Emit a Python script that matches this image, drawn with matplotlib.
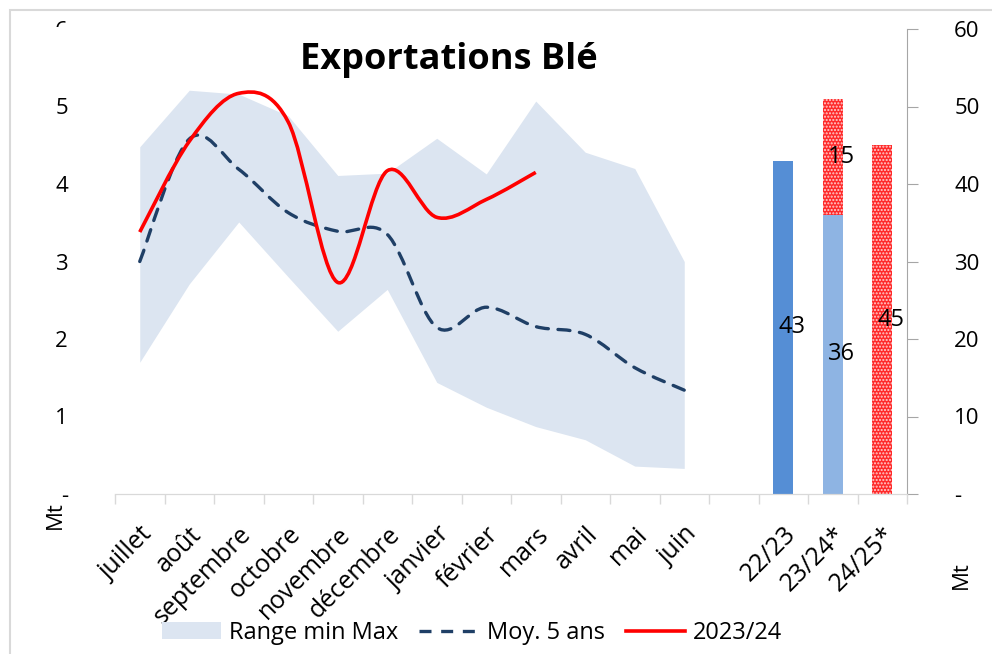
import matplotlib
matplotlib.use("Agg")
import matplotlib.pyplot as plt
from matplotlib.path import Path
from matplotlib.patches import PathPatch, Patch, Rectangle
from matplotlib.lines import Line2D
from matplotlib.transforms import Bbox, TransformedBbox
import numpy as np

plt.rcParams['font.family'] = ['Open Sans', 'DejaVu Sans']

# --- données ---
categories = ["juillet", "août", "septembre", "octobre", "novembre", "décembre",
              "janvier", "février", "mars", "avril", "mai", "juin", "",
              "22/23", "23/24*", "24/25*"]
mois = categories[:12]

range_max = [4.48, 5.21, 5.16, 4.88, 4.11, 4.14, 4.59, 4.13, 5.07, 4.41, 4.20, 3.00]
range_min = [1.70, 2.71, 3.51, 2.80, 2.10, 2.64, 1.44, 1.12, 0.87, 0.70, 0.36, 0.33]
moy_5ans = [3.00, 4.58, 4.19, 3.63, 3.39, 3.35, 2.15, 2.41, 2.16, 2.06, 1.63, 1.34]
campagne_2324 = [3.38, 4.55, 5.17, 4.80, 2.73, 4.17, 3.57, 3.80, 4.15]

campagnes = ["22/23", "23/24*", "24/25*"]
bar_bas = [43, 36, 0]        # réalisé
bar_haut = [0, 15, 45]       # prévision
bar_bas_couleurs = ['#558ED5', '#8EB4E3', '#8EB4E3']

left_ticks = [0, 1, 2, 3, 4, 5, 6]
left_labels = ['-', '1', '2', '3', '4', '5', '6']
right_ticks = [0, 10, 20, 30, 40, 50, 60]
right_labels = ['-', '10', '20', '30', '40', '50', '60']


def courbe_lissee(ax, y, **kw):
    # lissage type Excel : courbes de Bézier passant par les points
    x = np.arange(len(y), dtype=float)
    pts = np.column_stack([x, np.asarray(y, dtype=float)])
    verts = [pts[0]]
    codes = [Path.MOVETO]
    n = len(pts)
    for i in range(n - 1):
        p0 = pts[i - 1] if i > 0 else pts[i]
        p1 = pts[i]
        p2 = pts[i + 1]
        p3 = pts[i + 2] if i + 2 < n else pts[i + 1]
        verts += [p1 + (p2 - p0) / 6, p2 - (p3 - p1) / 6, p2]
        codes += [Path.CURVE4] * 3
    patch = PathPatch(Path(verts, codes), facecolor='none', **kw)
    ax.add_patch(patch)
    return patch


fig = plt.figure(figsize=(9.92, 6.54), dpi=100)
ax = fig.add_axes([115 / 992, 1 - 494 / 654, 792 / 992, 465 / 654])
ax2 = ax.twinx()

# cadre gris clair
fig.patches.append(Rectangle((10 / 992, -0.1), 1.2, 1 - 10 / 654 + 0.1,
                             transform=fig.transFigure, fill=False,
                             edgecolor='#D9D9D9', lw=1.5))

x_mois = np.arange(len(mois))
ax.fill_between(x_mois, range_min, range_max, color='#DCE5F1', lw=0, zorder=1)
courbe_lissee(ax, moy_5ans, edgecolor='#1F3F66', lw=2.4,
              linestyle=(0, (3.6, 2.9)), capstyle='round', zorder=3)
courbe_lissee(ax, campagne_2324, edgecolor='#FF0000', lw=2.6, zorder=4)

# barres sur l'axe de droite
x_bar = np.array([categories.index(c) for c in campagnes], dtype=float)
w = 0.4
ax2.bar(x_bar, bar_bas, width=w, color=bar_bas_couleurs, lw=0, zorder=2)
ax2.bar(x_bar, bar_haut, width=w, bottom=bar_bas, color='#FF2A2A',
        edgecolor='#FFD0D0', hatch='.....', lw=0, zorder=2)
for xb, b, h in zip(x_bar, bar_bas, bar_haut):
    if b > 0:
        ax2.text(xb + 0.17, b / 2, str(b), ha='center', va='center', fontsize=17, zorder=5)
    if h > 0:
        ax2.text(xb + 0.17, b + h / 2, str(h), ha='center', va='center', fontsize=17, zorder=5)

# axes
ax.set_xlim(-0.5, len(categories) - 0.5)
ax.set_ylim(0, 6)
ax2.set_ylim(0, 60)
ax.set_xticks(np.arange(len(categories)))
ax.set_xticklabels(categories, rotation=45, ha='right', rotation_mode='anchor', fontsize=18)
ax.set_xticks(np.arange(len(categories) + 1) - 0.5, minor=True)
ax.tick_params(axis='x', which='major', length=0, pad=20)
ax.tick_params(axis='x', which='minor', length=7, color='#D9D9D9', width=1)
ax.set_yticks(left_ticks)
ax.set_yticklabels(left_labels, fontsize=16)
ax.tick_params(axis='y', length=0, pad=34)
ax2.set_yticks(right_ticks)
ax2.set_yticklabels(right_labels, fontsize=16, ha='left')
ax2.tick_params(axis='y', length=8, color='#A6A6A6', pad=26)

for a in (ax, ax2):
    a.spines['top'].set_visible(False)
    a.spines['left'].set_visible(False)
    a.spines['right'].set_visible(False)
    a.spines['bottom'].set_color('#D9D9D9')
ax2.spines['right'].set_visible(True)
ax2.spines['right'].set_color('#A6A6A6')
ax.set_zorder(ax2.get_zorder() + 1)
ax.patch.set_visible(False)

# le "6" du haut est coupé dans l'original
clip = TransformedBbox(Bbox([[0, 1 - 27 / 654], [1, 1]]), fig.transFigure)
t6 = ax.yaxis.get_major_ticks()[-1].label1
t6.set_clip_box(clip)
t6.set_clip_on(True)

fig.text(55 / 992, 1 - 515 / 654, "Mt", rotation=90, ha='center', va='center', fontsize=16)
fig.text(961 / 992, 1 - 575 / 654, "Mt", rotation=90, ha='center', va='center', fontsize=16)
fig.text(449 / 992, 1 - 60 / 654, "Exportations Blé", ha='center', va='center',
         fontsize=26, fontweight='bold')

handles = [Patch(facecolor='#DCE5F1', edgecolor='none'),
           Line2D([], [], color='#1F3F66', lw=2.4, linestyle=(0, (3.6, 2.9))),
           Line2D([], [], color='#FF0000', lw=2.6)]
fig.legend(handles, ["Range min Max", "Moy. 5 ans", "2023/24"], ncol=3,
           loc='center', bbox_to_anchor=(472 / 992, 1 - 633 / 654), frameon=False,
           fontsize=17, handlelength=2.5, handletextpad=0.35, columnspacing=0.9,
           borderaxespad=0)

fig.savefig("out.png", dpi=100)
